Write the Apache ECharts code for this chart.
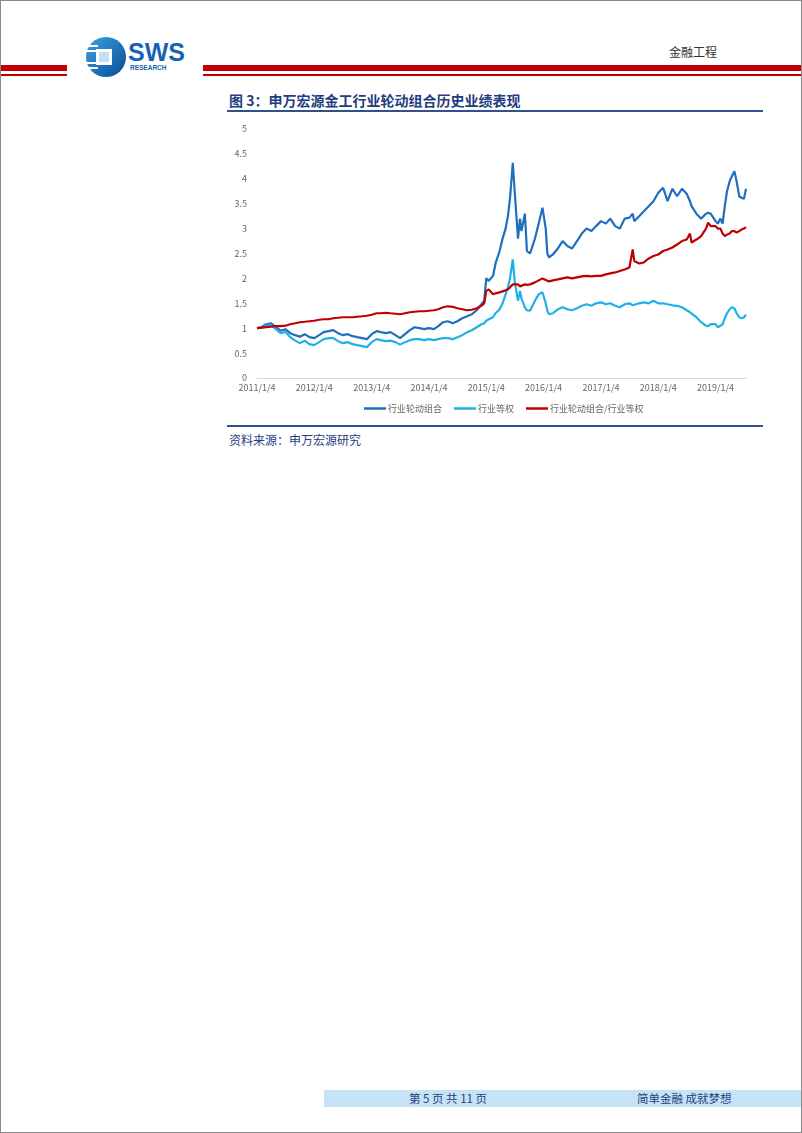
<!DOCTYPE html>
<html><head><meta charset="utf-8">
<script src="https://cdn.jsdelivr.net/npm/echarts@6/dist/echarts.min.js"></script>
<style>
html,body{margin:0;padding:0;background:#fff;}
#page{position:relative;width:802px;height:1133px;overflow:hidden;background:#fff;font-family:"Noto Sans CJK SC","Noto Sans",sans-serif;box-sizing:border-box;border:1px solid #8a8a8a;}
.abs{position:absolute;white-space:nowrap;}
#chart{position:absolute;left:0;top:0;width:802px;height:1133px;}
</style></head>
<body><div id="page">
<div class="abs" style="left:0;top:64px;width:66px;height:6px;background:#C00000"></div>
<div class="abs" style="left:0;top:73px;width:66px;height:1.5px;background:#C00000"></div>
<div class="abs" style="left:202px;top:64px;width:600px;height:6px;background:#C00000"></div>
<div class="abs" style="left:202px;top:73px;width:600px;height:1.5px;background:#C00000"></div>
<svg class="abs" style="left:83px;top:35px" width="46" height="42" viewBox="0 0 46 42">
 <defs><linearGradient id="lg" x1="0" y1="0" x2="1" y2="1"><stop offset="0" stop-color="#3aa4e2"/><stop offset="1" stop-color="#0a4a98"/></linearGradient></defs>
 <circle cx="22" cy="21" r="20" fill="url(#lg)"/>
 <rect x="2" y="9" width="12" height="2" fill="#fff"/>
 <rect x="1" y="14" width="13" height="2" fill="#fff"/>
 <rect x="1" y="26" width="13" height="2" fill="#fff"/>
 <rect x="2" y="31" width="12" height="2" fill="#fff"/>
 <rect x="12" y="13" width="16" height="16" fill="#fff"/>
 <rect x="15" y="16" width="10" height="10" fill="#bfe0f6"/>
</svg>
<div class="abs" style="left:127px;top:37px;font-family:'Liberation Sans',Arial,sans-serif;font-weight:bold;font-size:25px;color:#1763b3;letter-spacing:0px;line-height:28px">SWS</div>
<div class="abs" style="left:129px;top:63px;font-family:'Liberation Sans',Arial,sans-serif;font-weight:bold;font-size:6.5px;color:#1763b3;line-height:8px">RESEARCH</div>
<div class="abs" style="left:668px;top:43px;font-size:12px;color:#333;line-height:16px">金融工程</div>
<div class="abs" style="left:228px;top:90px;font-size:14px;font-weight:bold;color:#1f3d80;line-height:19px">图 3：申万宏源金工行业轮动组合历史业绩表现</div>
<div class="abs" style="left:226px;top:109px;width:536px;height:2px;background:#30508e"></div>
<div class="abs" style="left:226px;top:424px;width:536px;height:2px;background:#30508e"></div>
<div class="abs" style="left:228px;top:430px;font-size:12px;color:#1f3d80;line-height:17px">资料来源：申万宏源研究</div>
<div class="abs" style="left:323px;top:1089px;width:479px;height:17px;background:#c6e3f6"></div>
<div class="abs" style="left:408px;top:1089px;font-size:11.5px;color:#1f3d80;line-height:17px">第 5 页 共 11 页</div>
<div class="abs" style="left:636px;top:1089px;font-size:11.5px;color:#1f3d80;line-height:17px">简单金融 成就梦想</div>
<div id="chart"></div>
</div>
<script>
const dates = ['2011/1/4','2011/2/4','2011/3/4','2011/4/4','2011/5/4','2011/6/4','2011/7/4','2011/8/4','2011/9/4','2011/10/4','2011/11/4','2011/12/4',
'2012/1/4','2012/2/4','2012/3/4','2012/4/4','2012/5/4','2012/6/4','2012/7/4','2012/8/4','2012/9/4','2012/10/4','2012/11/4','2012/12/4',
'2013/1/4','2013/2/4','2013/3/4','2013/4/4','2013/5/4','2013/6/4','2013/7/4','2013/8/4','2013/9/4','2013/10/4','2013/11/4','2013/12/4',
'2014/1/4','2014/2/4','2014/3/4','2014/4/4','2014/5/4','2014/6/4','2014/7/4','2014/8/4','2014/9/4','2014/10/4','2014/11/4','2014/12/4','2014/12/22',
'2015/1/4','2015/1/20','2015/2/16','2015/3/4','2015/3/30','2015/4/18','2015/5/7','2015/5/22','2015/6/4','2015/6/22','2015/7/4','2015/7/25','2015/8/7','2015/8/16','2015/9/7','2015/9/20','2015/10/10','2015/11/10','2015/12/4','2015/12/28',
'2016/1/18','2016/1/28','2016/2/8','2016/3/4','2016/4/4','2016/5/4','2016/6/4','2016/7/4','2016/8/4','2016/9/4','2016/10/4','2016/11/4','2016/12/4',
'2017/1/4','2017/2/4','2017/3/4','2017/4/4','2017/5/4','2017/6/4','2017/7/4','2017/7/25','2017/8/4','2017/9/4','2017/10/4','2017/11/4','2017/12/4',
'2018/1/4','2018/2/4','2018/3/4','2018/4/4','2018/5/4','2018/6/4','2018/7/4','2018/7/25','2018/8/4','2018/9/4','2018/10/4','2018/11/4','2018/11/18','2018/12/4',
'2019/1/4','2019/1/18','2019/2/4','2019/2/18','2019/3/4','2019/3/18','2019/4/4','2019/4/18','2019/5/4','2019/5/18','2019/6/4','2019/6/18','2019/7/4','2019/7/17'];
const rotation = [1.00,1.03,1.08,1.10,1.02,0.95,0.98,0.90,0.86,0.83,0.88,0.82,
0.80,0.86,0.92,0.94,0.96,0.90,0.86,0.88,0.84,0.82,0.80,0.78,
0.88,0.94,0.92,0.90,0.92,0.86,0.80,0.88,0.96,1.02,1.00,0.98,
1.00,0.98,1.04,1.12,1.14,1.10,1.14,1.20,1.24,1.28,1.36,1.48,1.55,
2.00,1.95,2.05,2.30,2.55,2.80,3.00,3.25,3.60,4.32,3.75,2.80,3.20,2.95,3.30,2.55,2.50,2.80,3.10,3.42,
3.00,2.50,2.42,2.48,2.60,2.75,2.65,2.60,2.75,2.90,3.00,2.95,3.05,
3.15,3.10,3.20,3.05,3.00,3.20,3.22,3.30,3.15,3.25,3.35,3.45,3.55,
3.72,3.82,3.55,3.80,3.65,3.80,3.70,3.55,3.45,3.30,3.20,3.30,3.32,3.30,
3.15,3.10,3.20,3.10,3.45,3.75,3.95,4.05,4.15,3.95,3.65,3.62,3.60,3.80];
const equalWeight = [1.00,1.01,1.05,1.06,0.98,0.90,0.93,0.82,0.75,0.70,0.75,0.68,
0.66,0.72,0.78,0.80,0.80,0.74,0.70,0.72,0.68,0.66,0.64,0.62,
0.72,0.78,0.76,0.74,0.75,0.72,0.67,0.72,0.76,0.78,0.78,0.76,
0.78,0.76,0.78,0.80,0.80,0.78,0.82,0.86,0.92,0.96,1.02,1.08,1.10,
1.15,1.18,1.22,1.30,1.38,1.50,1.68,1.82,2.00,2.38,1.95,1.55,1.75,1.60,1.42,1.36,1.35,1.55,1.68,1.72,
1.50,1.35,1.28,1.30,1.38,1.42,1.38,1.36,1.40,1.45,1.48,1.45,1.50,
1.52,1.48,1.50,1.45,1.42,1.48,1.50,1.46,1.46,1.50,1.52,1.50,1.55,
1.50,1.50,1.48,1.46,1.45,1.42,1.36,1.32,1.30,1.22,1.12,1.05,1.04,1.08,
1.08,1.02,1.05,1.08,1.20,1.30,1.38,1.42,1.40,1.30,1.22,1.20,1.22,1.27];
const ratio = [1.00,1.01,1.02,1.03,1.04,1.04,1.05,1.08,1.10,1.12,1.13,1.14,
1.15,1.17,1.18,1.18,1.20,1.21,1.22,1.22,1.22,1.23,1.24,1.25,
1.27,1.30,1.30,1.31,1.30,1.29,1.28,1.30,1.32,1.33,1.34,1.34,
1.35,1.36,1.38,1.42,1.44,1.43,1.40,1.38,1.36,1.37,1.40,1.45,1.50,
1.75,1.78,1.68,1.70,1.72,1.74,1.76,1.78,1.82,1.88,1.92,1.88,1.84,1.86,1.88,1.87,1.88,1.92,1.96,2.00,
1.97,1.95,1.94,1.96,1.98,2.00,2.02,2.00,2.02,2.04,2.05,2.04,2.05,
2.05,2.08,2.10,2.12,2.15,2.18,2.22,2.58,2.35,2.30,2.32,2.40,2.45,
2.48,2.55,2.58,2.62,2.68,2.75,2.78,2.90,2.72,2.78,2.85,3.00,3.12,3.05,
3.05,3.00,3.00,2.90,2.85,2.88,2.90,2.95,2.95,2.92,2.95,2.98,3.00,3.03];
const xTickLabels = ['2011/1/4','2012/1/4','2013/1/4','2014/1/4','2015/1/4','2016/1/4','2017/1/4','2018/1/4','2019/1/4'];
const seriesNames = ['行业轮动组合','行业等权','行业轮动组合/行业等权'];
const seriesColors = ['#1f6fbd','#1fb0ea','#c00000'];

function toTime(s){const p=s.split('/').map(Number);return new Date(p[0],p[1]-1,p[2]).getTime();}
function fmt(v){const d=new Date(v);return d.getFullYear()+'/'+(d.getMonth()+1)+'/'+d.getDate();}
const values = [rotation, equalWeight, ratio];

const chart = echarts.init(document.getElementById('chart'), null, {renderer:'canvas'});
chart.setOption({
  backgroundColor:'transparent',
  animation:false,
  textStyle:{fontFamily:'"Noto Sans CJK SC","Noto Sans",sans-serif'},
  grid:{left:256,right:57,top:128,bottom:756,containLabel:false},
  legend:{
    data:seriesNames, left:358, top:398, icon:'rect', itemWidth:22, itemHeight:2.5, itemGap:12,
    textStyle:{color:'#666',fontSize:9,padding:[0,0,0,-3]}
  },
  xAxis:{
    type:'value', min:toTime(dates[0]), max:toTime(dates[dates.length-1]),
    axisLine:{show:true,lineStyle:{color:'#d9d9d9',width:1}},
    axisTick:{show:false}, splitLine:{show:false},
    axisLabel:{customValues:xTickLabels.map(toTime), formatter:fmt, color:'#666', fontSize:9, margin:5, hideOverlap:false}
  },
  yAxis:{
    type:'value', min:0, max:5, interval:0.5,
    axisLine:{show:false}, axisTick:{show:false}, splitLine:{show:false},
    axisLabel:{color:'#666', fontSize:9, margin:10}
  },
  series: seriesNames.map((n,k)=>({
    name:n, type:'line', showSymbol:false, symbol:'none',
    data: dates.map((d,i)=>[toTime(d), values[k][i]]),
    lineStyle:{width:2.2,color:seriesColors[k]}, itemStyle:{color:seriesColors[k]}
  }))
});
</script>
</body></html>
